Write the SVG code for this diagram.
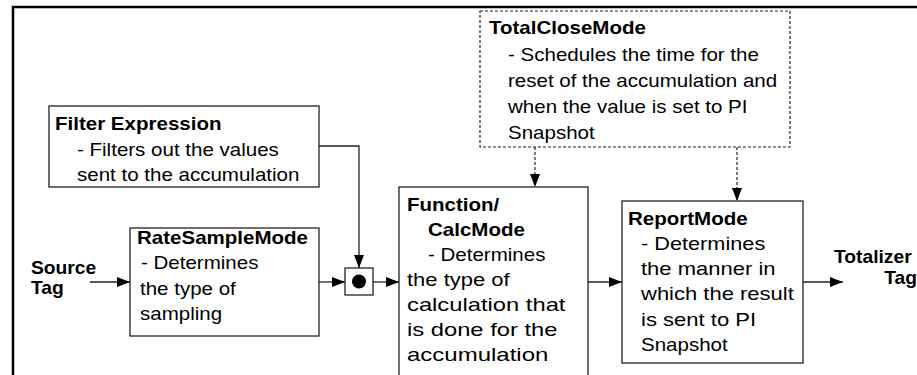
<svg xmlns="http://www.w3.org/2000/svg" width="917" height="375" viewBox="0 0 917 375">
  <style>
    .box { fill: #fff; stroke: #222; stroke-width: 1.3; }
    .dash { fill: #fff; stroke: #222; stroke-width: 1.2; stroke-dasharray: 3 2; }
    .wire { fill: none; stroke: #222; stroke-width: 1.3; }
    .wire-d { fill: none; stroke: #222; stroke-width: 1.2; stroke-dasharray: 3 2; }
    text { font-family: "Liberation Sans", Arial, sans-serif; font-size: 18px; fill: #000; }
    .t { font-weight: bold; }
    .lbl { font-weight: bold; font-size: 17.5px; }
  </style>
  <defs>
    <marker id="arrow" viewBox="0 0 13 10" refX="13" refY="5" markerWidth="13" markerHeight="10" markerUnits="userSpaceOnUse" orient="auto">
      <path d="M0,0 L13,5 L0,10 z" fill="#000"/>
    </marker>
  </defs>

  <rect width="917" height="375" fill="#fff"/>

  <!-- outer frame (left and top edges) -->
  <path d="M13,375 V7 H917" fill="none" stroke="#000" stroke-width="2.5"/>

  <g id="connectors">
    <line class="wire" x1="90" y1="282" x2="130" y2="282" marker-end="url(#arrow)"/>
    <line class="wire" x1="319" y1="282" x2="345" y2="282" marker-end="url(#arrow)"/>
    <polyline class="wire" points="319,146 359,146 359,268" marker-end="url(#arrow)"/>
    <line class="wire" x1="373" y1="282" x2="399" y2="282" marker-end="url(#arrow)"/>
    <line class="wire" x1="588" y1="282" x2="622" y2="282" marker-end="url(#arrow)"/>
    <line class="wire" x1="803" y1="282" x2="843" y2="282" marker-end="url(#arrow)"/>
    <line class="wire-d" x1="535" y1="147" x2="535" y2="187" marker-end="url(#arrow)"/>
    <line class="wire-d" x1="737" y1="147" x2="737" y2="201" marker-end="url(#arrow)"/>
  </g>

  <!-- text is set slightly wide: matrix(1.14 0 0 1 x y) -->
  <g id="source-tag">
    <text class="lbl" transform="matrix(1.1 0 0 1 31 274)">Source</text>
    <text class="lbl" transform="matrix(1.1 0 0 1 31 294)">Tag</text>
  </g>

  <g id="filter-expression">
    <rect class="box" x="49" y="106" width="270" height="81"/>
    <text class="t" transform="matrix(1.14 0 0 1 55 130)">Filter Expression</text>
    <text transform="matrix(1.14 0 0 1 77 156)">- Filters out the values</text>
    <text transform="matrix(1.14 0 0 1 77 181)">sent to the accumulation</text>
  </g>

  <g id="rate-sample-mode">
    <rect class="box" x="130" y="228" width="189" height="108"/>
    <text class="t" transform="matrix(1.14 0 0 1 137 244)">RateSampleMode</text>
    <text transform="matrix(1.14 0 0 1 141 269)">- Determines</text>
    <text transform="matrix(1.14 0 0 1 140 295)">the type of</text>
    <text transform="matrix(1.14 0 0 1 140 320)">sampling</text>
  </g>

  <g id="junction">
    <rect class="box" x="345" y="268" width="28" height="27"/>
    <circle cx="359" cy="281.5" r="7" fill="#000"/>
  </g>

  <g id="total-close-mode">
    <rect class="dash" x="480" y="11" width="310" height="136"/>
    <text class="t" transform="matrix(1.14 0 0 1 489 34)">TotalCloseMode</text>
    <text transform="matrix(1.14 0 0 1 508 61)">- Schedules the time for the</text>
    <text transform="matrix(1.14 0 0 1 508 87)">reset of the accumulation and</text>
    <text transform="matrix(1.14 0 0 1 508 113)">when the value is set to PI</text>
    <text transform="matrix(1.14 0 0 1 508 139)">Snapshot</text>
  </g>

  <g id="function-calc-mode">
    <rect class="box" x="399" y="187" width="189" height="200"/>
    <text class="t" transform="matrix(1.14 0 0 1 407 211)">Function/</text>
    <text class="t" transform="matrix(1.14 0 0 1 428 236)">CalcMode</text>
    <text transform="matrix(1.14 0 0 1 428 261)">- Determines</text>
    <text transform="matrix(1.14 0 0 1 407 286)" textLength="90" lengthAdjust="spacingAndGlyphs">the type of</text>
    <text transform="matrix(1.14 0 0 1 407 311)" textLength="139" lengthAdjust="spacingAndGlyphs">calculation that</text>
    <text transform="matrix(1.14 0 0 1 407 336)" textLength="132" lengthAdjust="spacingAndGlyphs">is done for the</text>
    <text transform="matrix(1.14 0 0 1 407 361)" textLength="124" lengthAdjust="spacingAndGlyphs">accumulation</text>
  </g>

  <g id="report-mode">
    <rect class="box" x="622" y="201" width="181" height="162"/>
    <text class="t" transform="matrix(1.14 0 0 1 628 225)">ReportMode</text>
    <text transform="matrix(1.14 0 0 1 641 250)" textLength="109" lengthAdjust="spacingAndGlyphs">- Determines</text>
    <text transform="matrix(1.14 0 0 1 641 275)" textLength="118" lengthAdjust="spacingAndGlyphs">the manner in</text>
    <text transform="matrix(1.14 0 0 1 641 300)" textLength="134" lengthAdjust="spacingAndGlyphs">which the result</text>
    <text transform="matrix(1.14 0 0 1 641 326)" textLength="101" lengthAdjust="spacingAndGlyphs">is sent to PI</text>
    <text transform="matrix(1.14 0 0 1 641 351)">Snapshot</text>
  </g>

  <g id="totalizer-tag">
    <text class="lbl" transform="matrix(1.1 0 0 1 834 263)">Totalizer</text>
    <text class="lbl" text-anchor="end" transform="matrix(1.1 0 0 1 917 284)">Tag</text>
  </g>
</svg>
